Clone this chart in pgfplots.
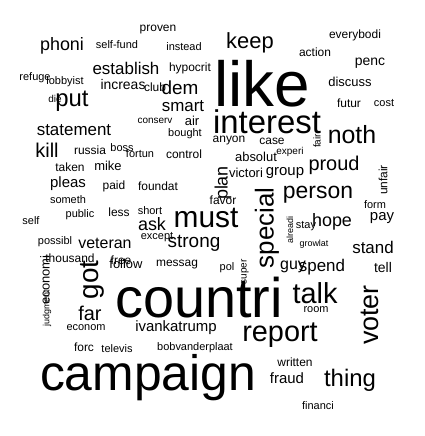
\documentclass[border=0pt]{standalone}
\usepackage{pgfplots}
\pgfplotsset{compat=1.18}
\usepackage{fontspec}
\setmainfont{Liberation Sans}
\newcommand{\w}[5]{\node[rotate=#4,inner sep=0pt,anchor=center,font=\fontsize{#3}{#3}\selectfont] at (axis cs:#1,#2) {#5};}
\begin{document}
\begin{tikzpicture}[x=1bp,y=1bp]
\begin{axis}[scale only axis,width=425bp,height=436bp,xmin=0,xmax=425,ymin=0,ymax=436,y dir=reverse,hide axis,clip=false]
\addplot[draw=none,mark=none] coordinates {(0,0) (425,436)};
\w{262}{84}{64}{0}{like}
\w{199}{298}{56}{0}{countri}
\w{148}{378}{50}{0}{campaign}
\w{267}{122}{33}{0}{interest}
\w{206}{218}{30}{0}{must}
\w{280}{335}{29}{0}{report}
\w{315}{293}{29}{0}{talk}
\w{267}{228}{26}{90}{special}
\w{352}{135}{25}{0}{noth}
\w{318}{195}{23}{0}{person}
\w{350}{380}{24}{0}{thing}
\w{370}{315}{27}{90}{voter}
\w{92}{280}{28}{90}{got}
\w{250}{43}{22}{0}{keep}
\w{62}{46}{18}{0}{phoni}
\w{126}{68}{17}{0}{establish}
\w{72}{101}{24}{0}{put}
\w{74}{130}{17}{0}{statement}
\w{47}{150}{20}{0}{kill}
\w{180}{88}{19}{0}{dem}
\w{183}{106}{17}{0}{smart}
\w{334}{165}{20}{0}{proud}
\w{223}{183}{18}{90}{plan}
\w{246}{173}{13}{0}{victori}
\w{285}{173}{15}{0}{group}
\w{332}{222}{18}{0}{hope}
\w{194}{243}{19}{0}{strong}
\w{152}{224}{18}{0}{ask}
\w{373}{247}{17}{0}{stand}
\w{322}{267}{17}{0}{spend}
\w{293}{267}{16}{0}{guy}
\w{105}{243}{16}{0}{veteran}
\w{90}{313}{20}{0}{far}
\w{126}{264}{13}{0}{follow}
\w{176}{328}{15}{0}{ivankatrump}
\w{287}{378}{15}{0}{fraud}
\w{45}{280}{13}{90}{economi}
\w{123}{85}{14}{0}{increas}
\w{68}{184}{15}{0}{pleas}
\w{108}{166}{13}{0}{mike}
\w{90}{150}{12}{0}{russia}
\w{70}{167}{12}{0}{taken}
\w{122}{148}{11}{0}{boss}
\w{114}{186}{12}{0}{paid}
\w{158}{186}{12}{0}{foundat}
\w{256}{157}{13}{0}{absolut}
\w{184}{154}{12}{0}{control}
\w{140}{154}{11}{0}{fortun}
\w{272}{141}{12}{0}{case}
\w{229}{141}{12}{0}{anyon}
\w{192}{121}{13}{0}{air}
\w{155}{121}{10}{0}{conserv}
\w{185}{134}{11}{0}{bought}
\w{190}{68}{12}{0}{hypocrit}
\w{155}{87}{12}{0}{club}
\w{65}{82}{11}{0}{lobbyist}
\w{35}{78}{11}{0}{refuge}
\w{55}{99}{10}{0}{die}
\w{117}{45}{11}{0}{self-fund}
\w{158}{30}{12}{0}{proven}
\w{184}{47}{11}{0}{instead}
\w{355}{35}{12}{0}{everybodi}
\w{315}{52}{12}{0}{action}
\w{370}{63}{14}{0}{penc}
\w{350}{82}{13}{0}{discuss}
\w{349}{103}{12}{0}{futur}
\w{384}{103}{11}{0}{cost}
\w{317}{141}{10}{90}{fair}
\w{383}{180}{12}{90}{unfair}
\w{290}{152}{10}{0}{experi}
\w{375}{205}{11}{0}{form}
\w{382}{218}{15}{0}{pay}
\w{383}{268}{14}{0}{tell}
\w{306}{226}{11}{0}{stay}
\w{290}{230}{9}{90}{alreadi}
\w{314}{244}{9}{0}{growlat}
\w{245}{272}{10}{90}{super}
\w{227}{268}{11}{0}{pol}
\w{177}{265}{12}{0}{messag}
\w{223}{200}{12}{0}{favor}
\w{150}{211}{11}{0}{short}
\w{119}{212}{12}{0}{less}
\w{157}{237}{11}{0}{except}
\w{31}{221}{11}{0}{self}
\w{80}{215}{11}{0}{public}
\w{68}{200}{11}{0}{someth}
\w{55}{242}{11}{0}{possibl}
\w{70}{258}{12}{0}{thousand}
\w{121}{260}{12}{0}{free}
\w{47}{308}{9}{90}{judgment}
\w{86}{328}{11}{0}{econom}
\w{84}{347}{12}{0}{forc}
\w{117}{349}{11}{0}{televis}
\w{195}{348}{11}{0}{bobvanderplaat}
\w{316}{310}{11}{0}{room}
\w{295}{362}{12}{0}{written}
\w{318}{406}{11}{0}{financi}
\end{axis}
\end{tikzpicture}
\end{document}
